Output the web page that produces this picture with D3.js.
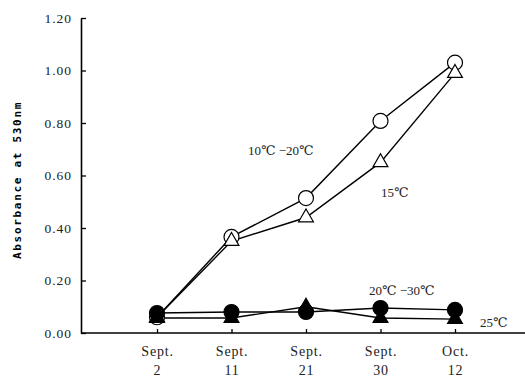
<!DOCTYPE html>
<html>
<head>
<meta charset="utf-8">
<script src="https://cdn.jsdelivr.net/npm/d3@7"></script>
<style>
body { margin: 0; background: #fff; }
svg { display: block; }
.serif { font-family: "Liberation Serif", "DejaVu Serif", serif; fill: #222; }
</style>
</head>
<body>
<svg></svg>
<script>
var width = 525;
var height = 378;

var dates = ["Sept.|2", "Sept.|11", "Sept.|21", "Sept.|30", "Oct.|12"];
var yTicks = [0, 0.2, 0.4, 0.6, 0.8, 1.0, 1.2];

// values
var open10to20 = [0.06, 0.366, 0.514, 0.808, 1.03];
var open15 = [0.06, 0.35, 0.44, 0.65, 0.99];
var filled20to30 = [0.076, 0.08, 0.08, 0.095, 0.088];
var filled25 = [0.057, 0.057, 0.10, 0.057, 0.053];

var xScale = d3.scalePoint()
    .domain(dates)
    .range([157, 455]);

var yScale = d3.scaleLinear()
    .domain([0, 1.2])
    .range([333, 18]);

var svg = d3.select("svg")
    .attr("width", width)
    .attr("height", height);

// axes
var yAxis = d3.axisLeft(yScale)
    .tickValues(yTicks)
    .tickSize(-5)
    .tickSizeOuter(0)
    .tickFormat(d3.format(".2f"));

var gy = svg.append("g")
    .attr("transform", "translate(81,0)")
    .call(yAxis);
gy.attr("font-family", null);
gy.select(".domain").attr("stroke", "#000").attr("stroke-width", 1.6);
gy.selectAll(".tick line").attr("stroke", "#000").attr("stroke-width", 1.3);
gy.selectAll(".tick text")
    .attr("class", "serif")
    .attr("x", -9)
    .style("font-size", "13.5px")
    .style("letter-spacing", "1px")
    .attr("fill", null);

svg.append("line")
    .attr("x1", 81).attr("x2", width)
    .attr("y1", yScale(0)).attr("y2", yScale(0))
    .attr("stroke", "#000")
    .attr("stroke-width", 1.6);

var gx = svg.append("g")
    .attr("transform", `translate(0, ${yScale(0)})`)
    .call(d3.axisBottom(xScale).tickSize(-4).tickSizeOuter(0).tickFormat(""));
gx.attr("font-family", null);
gx.select(".domain").remove();
gx.selectAll(".tick line").attr("stroke", "#000").attr("stroke-width", 1.3);

gx.selectAll(".tick").each(function(d) {
    var parts = d.split("|");
    var t = d3.select(this).append("text")
        .attr("class", "serif")
        .attr("text-anchor", "middle")
        .style("font-size", "14px")
        .style("letter-spacing", "0.8px");
    t.append("tspan").attr("x", 0).attr("y", 23).text(parts[0]);
    t.append("tspan").attr("x", 0).attr("y", 42).text(parts[1]);
});

svg.append("text")
    .attr("transform", "rotate(-90)")
    .attr("x", -180)
    .attr("y", 21)
    .attr("text-anchor", "middle")
    .style("font-family", "'DejaVu Sans Mono', monospace")
    .style("font-weight", "bold")
    .style("font-size", "11px")
    .style("letter-spacing", "1.7px")
    .text("Absorbance at 530nm");

// lines
var line = d3.line()
    .x((d, i) => xScale(dates[i]))
    .y(d => yScale(d));

[filled25, filled20to30, open15, open10to20].forEach(function(s) {
    svg.append("path")
        .datum(s)
        .attr("d", line)
        .attr("fill", "none")
        .attr("stroke", "#000")
        .attr("stroke-width", 1.4);
});

var tri = d3.symbol().type(d3.symbolTriangle).size(95);

function drawTriangles(s, fill) {
    svg.append("g").selectAll("path")
        .data(s)
        .enter()
        .append("path")
        .attr("d", tri)
        .attr("transform", (d, i) => `translate(${xScale(dates[i])},${yScale(d)})`)
        .attr("fill", fill)
        .attr("stroke", "#000")
        .attr("stroke-width", 1.2);
}

function drawCircles(s, fill) {
    svg.append("g").selectAll("circle")
        .data(s)
        .enter()
        .append("circle")
        .attr("cx", (d, i) => xScale(dates[i]))
        .attr("cy", d => yScale(d))
        .attr("r", 7.5)
        .attr("fill", fill)
        .attr("stroke", "#000")
        .attr("stroke-width", 1.2);
}

drawCircles(open10to20, "#fff");
drawTriangles(open15, "#fff");
drawCircles(filled20to30, "#000");
drawTriangles(filled25, "#000");

// series labels
var labels = [
    { text: "10\u2103 \u221220\u2103", x: 248, y: 155 },
    { text: "15\u2103", x: 381, y: 197 },
    { text: "20\u2103 \u221230\u2103", x: 369, y: 295 },
    { text: "25\u2103", x: 480, y: 327 }
];

svg.selectAll(".lbl")
    .data(labels)
    .enter()
    .append("text")
    .attr("class", "serif")
    .attr("x", d => d.x)
    .attr("y", d => d.y)
    .style("font-size", "13px")
    .text(d => d.text);
</script>
</body>
</html>
